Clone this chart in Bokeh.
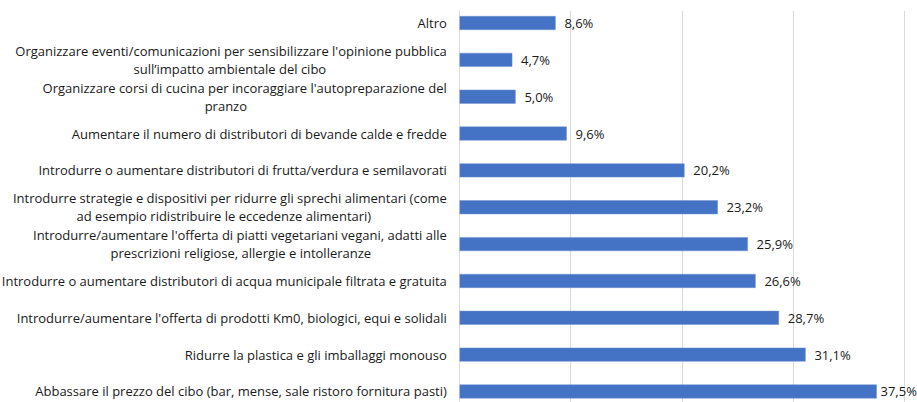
from bokeh.plotting import figure
from bokeh.models import ColumnDataSource, Range1d, FixedTicker
from bokeh.core.properties import value
from bokeh.embed import file_html
from bokeh.resources import INLINE

# ---- data (top to bottom) ----
categories = [
    "Altro",
    "Organizzare eventi/comunicazioni per sensibilizzare l'opinione pubblica\nsull\u2019impatto ambientale del cibo",
    "Organizzare corsi di cucina per incoraggiare l'autopreparazione del\npranzo",
    "Aumentare il numero di distributori di bevande calde e fredde",
    "Introdurre o aumentare distributori di frutta/verdura e semilavorati",
    "Introdurre strategie e dispositivi per ridurre gli sprechi alimentari (come\nad esempio ridistribuire le eccedenze alimentari)",
    "Introdurre/aumentare l'offerta di piatti vegetariani vegani, adatti alle\nprescrizioni religiose, allergie e intolleranze",
    "Introdurre o aumentare distributori di acqua municipale filtrata e gratuita",
    "Introdurre/aumentare l'offerta di prodotti Km0, biologici, equi e solidali",
    "Ridurre la plastica e gli imballaggi monouso",
    "Abbassare il prezzo del cibo (bar, mense, sale ristoro fornitura pasti)",
]
values = [8.6, 4.7, 5.0, 9.6, 20.2, 23.2, 25.9, 26.6, 28.7, 31.1, 37.5]
grid_ticks = [0, 10, 20, 30, 40]

# ---- styling / layout ----
FONT = value("Open Sans")
FSIZE = value("13px")
TEXT_COLOR = "#1a1a1a"
BAR_COLOR = "#4472C4"
# horizontal centre (screen px from the axis) of the second line of wrapped labels
second_line_center = {1: -230, 2: -234, 5: -236, 6: -219}
# gap between bar end and its value label (last one kept inside the chart)
value_gap = [9, 9, 9, 9, 9, 9, 9, 9, 9, 9, 4]

idx = list(range(len(categories)))
value_text = [("%.1f%%" % v).replace(".", ",") for v in values]

src = ColumnDataSource(dict(y=idx, v=values, t=value_text, g=value_gap))

p = figure(width=917, height=402, output_backend="svg", toolbar_location=None,
           x_range=Range1d(-41.34, 41.19), y_range=Range1d(10.299, -0.339),
           min_border_left=0, min_border_right=0, min_border_top=10,
           min_border_bottom=0)
p.outline_line_color = None
p.xaxis.visible = False
p.yaxis.visible = False
p.ygrid.visible = False
p.xgrid.ticker = FixedTicker(ticks=grid_ticks)
p.xgrid.grid_line_color = "#d9d9d9"
p.xgrid.grid_line_width = 1
p.background_fill_color = "white"
p.border_fill_color = "white"

p.hbar(y="y", right="v", left=0, height=0.364, source=src,
       fill_color=BAR_COLOR, line_color="#6f93d3", line_width=0.5)

p.text(x="v", y="y", text="t", source=src, x_offset="g",
       text_align="left", text_baseline="middle",
       text_font=FONT, text_font_size=FSIZE, text_color=TEXT_COLOR)

# category labels
one_y, one_t = [], []
first_y, first_t = [], []
sec_y, sec_t, sec_off = [], [], []
for i, c in enumerate(categories):
    parts = c.split("\n")
    if len(parts) == 1:
        one_y.append(i); one_t.append(c)
    else:
        first_y.append(i); first_t.append(parts[0])
        sec_y.append(i); sec_t.append(parts[1]); sec_off.append(second_line_center[i])

s1 = ColumnDataSource(dict(x=[0] * len(one_y), y=one_y, t=one_t))
p.text(x="x", y="y", text="t", source=s1, x_offset=-13,
       text_align="right", text_baseline="middle",
       text_font=FONT, text_font_size=FSIZE, text_color=TEXT_COLOR)
sf = ColumnDataSource(dict(x=[0] * len(first_y), y=first_y, t=first_t))
p.text(x="x", y="y", text="t", source=sf, x_offset=-13, y_offset=-9,
       text_align="right", text_baseline="middle",
       text_font=FONT, text_font_size=FSIZE, text_color=TEXT_COLOR)
s2 = ColumnDataSource(dict(x=[0] * len(sec_y), y=sec_y, t=sec_t, o=sec_off))
p.text(x="x", y="y", text="t", source=s2, x_offset="o", y_offset=9,
       text_align="center", text_baseline="middle",
       text_font=FONT, text_font_size=FSIZE, text_color=TEXT_COLOR)

open("out.html", "w").write(file_html(p, INLINE))
